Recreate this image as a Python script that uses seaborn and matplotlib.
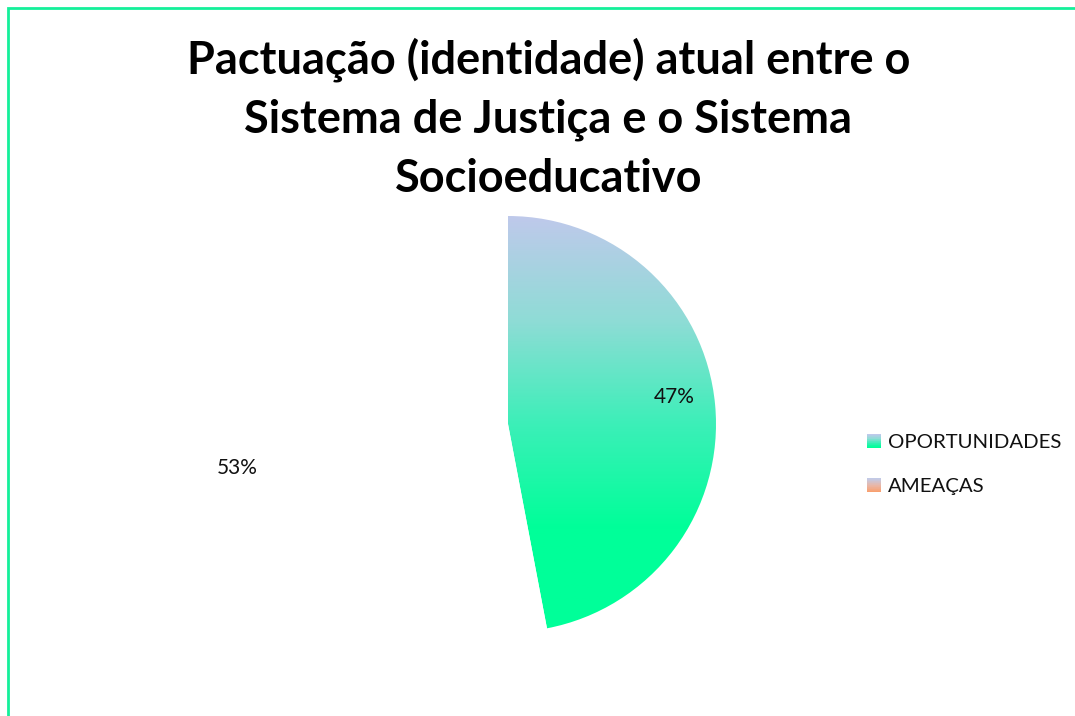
import numpy as np
import matplotlib
matplotlib.use("Agg")
import matplotlib.pyplot as plt
import seaborn as sns
from matplotlib.patches import Rectangle
from matplotlib.legend_handler import HandlerBase
from matplotlib.colors import LinearSegmentedColormap

# ---- data ----
categories = ["OPORTUNIDADES", "AMEAÇAS"]
values = [47, 53]
pct_labels = ["47%", "53%"]
title = "Pactuação (identidade) atual entre o\nSistema de Justiça e o Sistema\nSocioeducativo"

# ---- styles ----
grad_green = ["#BFC9EB", "#8FDCD6", "#3CEFB8", "#00FF99", "#00FF99"]
grad_orange = ["#C2CAE6", "#E8B7A8", "#F8A070"]
border_color = "#14F09A"

sns.set_theme(style="white")
plt.rcParams["font.family"] = ["Lato", "DejaVu Sans"]

W, H = 1075, 716
fig = plt.figure(figsize=(W / 100, H / 100), dpi=100)
fig.patch.set_facecolor("white")

cx, cy, r = 508, 424, 208
ax = fig.add_axes([(cx - r) / W, (H - cy - r) / H, 2 * r / W, 2 * r / H])
ax.axis("off")

wedges, _ = ax.pie(values, startangle=90, counterclock=False, radius=1,
                   colors=["none", "white"], wedgeprops=dict(linewidth=0))

cmap_g = LinearSegmentedColormap.from_list("g", grad_green)
grad = np.linspace(0, 1, 256).reshape(-1, 1)
im = ax.imshow(grad, cmap=cmap_g, extent=(-1, 1, -1, 1), aspect="auto",
               origin="upper", zorder=0.5)
im.set_clip_path(wedges[0])
ax.set_xlim(-1, 1)
ax.set_ylim(-1, 1)
ax.set_aspect("equal")

# percentage labels
label_pos = [(0.80, 0.13), (-1.30, -0.21)]
for (x, y), t in zip(label_pos, pct_labels):
    ax.text(x, y, t, ha="center", va="center", fontsize=15, color="#111111")

# title
fig.text(0.51, 0.948, title, ha="center", va="top", fontsize=32.5,
         fontweight="bold", linespacing=1.49, color="black")

# legend with gradient swatches
class GradientHandler(HandlerBase):
    def __init__(self, colors):
        super().__init__()
        self.cmap = LinearSegmentedColormap.from_list("c", colors)

    def create_artists(self, legend, orig_handle, xdescent, ydescent,
                       width, height, fontsize, trans):
        n = 20
        arts = []
        for i in range(n):
            y0 = -ydescent + height * (1 - (i + 1) / n)
            rect = Rectangle((-xdescent, y0), width, height / n + 0.01,
                             facecolor=self.cmap(i / (n - 1)), edgecolor="none",
                             transform=trans)
            arts.append(rect)
        return arts

h1 = Rectangle((0, 0), 1, 1)
h2 = Rectangle((0, 0), 1, 1)
leg = fig.legend([h1, h2], categories, loc="center left",
                 bbox_to_anchor=(0.789, 0.351), frameon=False, fontsize=14.7,
                 handlelength=0.7, handleheight=0.65, handletextpad=0.35,
                 labelspacing=1.35,
                 handler_map={h1: GradientHandler(grad_green[:4]),
                              h2: GradientHandler(grad_orange)})
for t in leg.get_texts():
    t.set_color("#111111")

# chart border (left and top visible)
fig.patches.append(Rectangle((7.5 / W, -0.5), 2.0, 1.5 - 7.5 / H,
                             transform=fig.transFigure, fill=False,
                             edgecolor=border_color, linewidth=2.0))

fig.savefig("out.png", dpi=100, facecolor="white")
